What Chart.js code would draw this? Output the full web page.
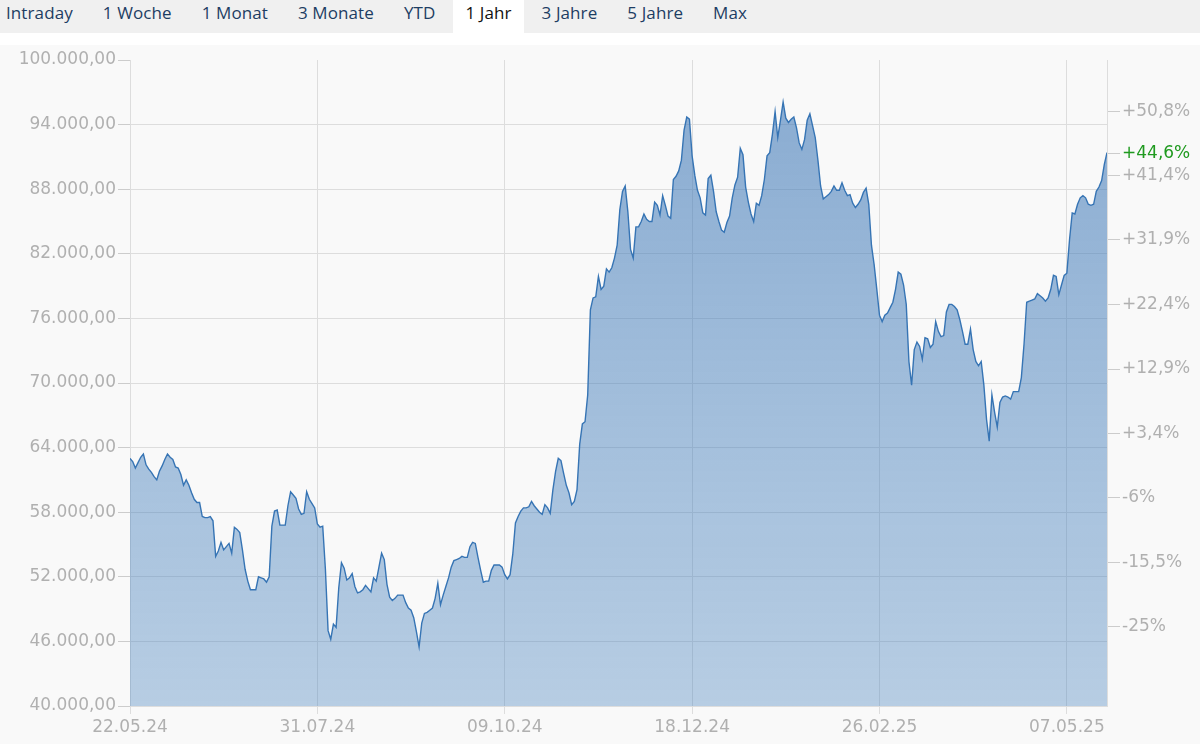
<!DOCTYPE html>
<html lang="de">
<head>
<meta charset="utf-8">
<title>Kursverlauf 1 Jahr</title>
<script src="https://cdn.jsdelivr.net/npm/chart.js@4.4.1/dist/chart.umd.min.js"></script>
<style>
    body { margin: 0; width: 1200px; height: 744px; overflow: hidden; background: #fff; font-family: "Open Sans", sans-serif; }
    #tabs { position: absolute; top: 0; left: 0; width: 1200px; height: 33px; background: #f0f0f0; display: flex; gap: 6px; }
    #tabs span { height: 33px; padding: 0 12px; line-height: 26px; font-size: 17px; letter-spacing: 0.1px; color: #1d3d63; white-space: nowrap; }
    #tabs span:first-child { margin-left: -6px; }
    #tabs span.aktiv { background: #fff; color: #111; }
    #panel { position: absolute; top: 45px; left: 0; width: 1200px; height: 699px; background: #f9f9f9; }
</style>
</head>
<body>
<div id="tabs"></div>
<div id="panel"><canvas id="kursChart" width="1200" height="699"></canvas></div>
<script>
// Zeitraum-Reiter
const zeitraeume = ['Intraday', '1 Woche', '1 Monat', '3 Monate', 'YTD', '1 Jahr', '3 Jahre', '5 Jahre', 'Max'];
const aktiverZeitraum = '1 Jahr';

// Tageskurse ab 22.05.24 (ein Wert pro Tag)
const kurse = [
    63000, 62700, 62100, 62600, 63100, 63400, 62400, 62000, 61700, 61300,
    61000, 61800, 62300, 62900, 63400, 63100, 62900, 62200, 62100, 61500,
    60500, 61000, 60500, 59800, 59200, 58900, 58900, 57600, 57500, 57500,
    57600, 57200, 53900, 54400, 55200, 54500, 54800, 55100, 54200, 56600,
    56400, 56100, 54500, 52700, 51600, 50800, 50800, 50800, 52000, 51900,
    51800, 51500, 52000, 56700, 58100, 58200, 56800, 56800, 56800, 58600,
    59900, 59600, 59300, 58300, 57800, 57900, 59900, 59200, 58800, 58400,
    56900, 56600, 56700, 52700, 47000, 46200, 47600, 47300, 51000, 53300,
    52800, 51700, 51900, 52300, 51100, 50500, 50600, 50800, 51200, 50900,
    50600, 51900, 51600, 52900, 54200, 53600, 51300, 50100, 49800, 50000,
    50300, 50300, 50300, 49600, 49100, 48900, 48200, 46900, 45500, 47700,
    48600, 48700, 48900, 49100, 50000, 51400, 49400, 50300, 51100, 51900,
    52900, 53500, 53600, 53700, 53900, 53800, 53800, 54800, 55200, 55100,
    53800, 52600, 51500, 51600, 51600, 52600, 53100, 53100, 53100, 52900,
    52200, 51800, 52200, 54100, 57000, 57600, 58100, 58400, 58400, 58500,
    59000, 58600, 58300, 58000, 57800, 58700, 58400, 57900, 60100, 61800,
    63000, 62800, 61600, 60500, 59800, 58700, 59000, 60100, 64300, 66200,
    66400, 68900, 76800, 77900, 78000, 79900, 78700, 79000, 80600, 80300,
    80700, 81600, 82800, 86100, 87800, 88300, 85900, 82400, 81600, 84500,
    84500, 85000, 85700, 85200, 85000, 85000, 86800, 86500, 85600, 87400,
    86500, 85500, 85300, 88900, 89200, 89700, 90700, 93500, 94700, 94500,
    91100, 89300, 87900, 87200, 85800, 85600, 89000, 89300, 87800, 85900,
    85000, 84200, 84000, 84900, 85500, 87200, 88400, 89100, 91800, 91200,
    88200, 86800, 85700, 85000, 86700, 86500, 87400, 88900, 91100, 91400,
    93100, 95200, 92800, 94400, 96100, 94600, 94200, 94500, 94700, 93700,
    92300, 91700, 92600, 94400, 95000, 93900, 92800, 90700, 88300, 87100,
    87300, 87500, 87800, 88300, 87900, 87900, 88600, 87900, 87400, 87500,
    86700, 86300, 86600, 87000, 87700, 88100, 86600, 82800, 81000, 78700,
    76300, 75700, 76300, 76500, 77000, 77500, 78700, 80300, 80100, 79100,
    77300, 72000, 69800, 73100, 73800, 73400, 72200, 74200, 74100, 73300,
    73600, 75700, 74800, 74300, 74400, 76600, 77300, 77300, 77100, 76800,
    75900, 74800, 73600, 73600, 75000, 73100, 72000, 71600, 72000, 69800,
    66600, 64600, 68900, 67300, 65900, 68200, 68700, 68800, 68700, 68500,
    69200, 69200, 69200, 70500, 73600, 77500, 77600, 77700, 77800, 78300,
    78100, 77900, 77600, 77900, 78700, 80000, 79900, 78200, 79100, 80000,
    80200, 83300, 85800, 85700, 86600, 87200, 87400, 87200, 86600, 86500,
    86600, 87800, 88200, 88800, 90300, 91400
];

// Achsenbeschriftungen
const datumLabels = ['22.05.24', '31.07.24', '09.10.24', '18.12.24', '26.02.25', '07.05.25'];
const datumTage = [0, 70, 140, 210, 280, 350];
const prozentTicks = [-25, -15.5, -6, 3.4, 12.9, 22.4, 31.9, 41.4, 50.8];
const aktuellProzent = 44.6;
const basisKurs = 63150;

const farbeText = '#b0b0b0';
const farbeGitter = '#dddddd';
const schrift = { family: 'DejaVu Sans', size: 17 };

// Reiter aufbauen
const tabs = document.getElementById('tabs');
zeitraeume.forEach(function (z) {
    const s = document.createElement('span');
    s.textContent = z;
    if (z === aktiverZeitraum) s.className = 'aktiv';
    tabs.appendChild(s);
});

function formatKurs(v) {
    return Math.round(v).toString().replace(/\B(?=(\d{3})+(?!\d))/g, '.') + ',00';
}

function formatProzent(p) {
    const betrag = Number.isInteger(p) ? String(Math.abs(p)) : Math.abs(p).toFixed(1).replace('.', ',');
    return (p >= 0 ? '+' : '-') + betrag + '%';
}

const alleProzent = prozentTicks.concat([aktuellProzent]);

const data = {
    datasets: [{
        label: 'Kurs',
        data: kurse.map((k, i) => ({ x: i, y: k })),
        borderColor: '#3674b4',
        borderWidth: 1.4,
        pointRadius: 0,
        tension: 0,
        fill: 'start',
        backgroundColor: function (context) {
            const area = context.chart.chartArea;
            if (!area) return 'rgba(70,130,190,0.45)';
            const g = context.chart.ctx.createLinearGradient(0, area.top, 0, area.bottom);
            g.addColorStop(0, 'rgba(60,118,182,0.60)');
            g.addColorStop(1, 'rgba(70,130,190,0.37)');
            return g;
        }
    }]
};

const config = {
    type: 'line', data: data, options: {
        responsive: false, animation: false,
        layout: { padding: { top: 15, left: 0, right: 0, bottom: 0 } },
        plugins: { legend: { display: false }, tooltip: { enabled: false } },
        scales: {
            x: {
                type: 'linear', min: 0, max: 365,
                afterBuildTicks: axis => { axis.ticks = datumTage.map(t => ({ value: t })); },
                afterFit: axis => { axis.height = 38; },
                ticks: {
                    color: farbeText, font: schrift, padding: 3, maxRotation: 0, autoSkip: false,
                    callback: v => datumLabels[datumTage.indexOf(v)]
                },
                grid: { color: farbeGitter, tickLength: 8 },
                border: { color: farbeGitter }
            },
            y: {
                position: 'left', min: 40000, max: 100000,
                afterFit: axis => { axis.width = 130; },
                ticks: { stepSize: 6000, color: farbeText, font: schrift, padding: 2, callback: v => formatKurs(v) },
                grid: {
                    color: ctx => (ctx.tick && ctx.tick.value === 100000) ? 'rgba(0,0,0,0)' : farbeGitter,
                    tickColor: '#cccccc', tickLength: 12
                },
                border: { color: farbeGitter }
            },
            yProzent: {
                position: 'right', min: 40000, max: 100000,
                afterBuildTicks: axis => { axis.ticks = alleProzent.map(p => ({ value: basisKurs * (1 + p / 100) })); },
                afterFit: axis => { axis.width = 93; },
                ticks: {
                    autoSkip: false, font: schrift, padding: 2,
                    color: ctx => ctx.index === alleProzent.length - 1 ? '#1f9a1f' : farbeText,
                    callback: (v, i) => formatProzent(alleProzent[i])
                },
                grid: { drawOnChartArea: false, tickColor: '#cccccc', tickLength: 13 },
                border: { color: farbeGitter }
            }
        }
    }
};

// Chart erstellen
const kursChart = new Chart(document.getElementById('kursChart'), config);
</script>
</body>
</html>
